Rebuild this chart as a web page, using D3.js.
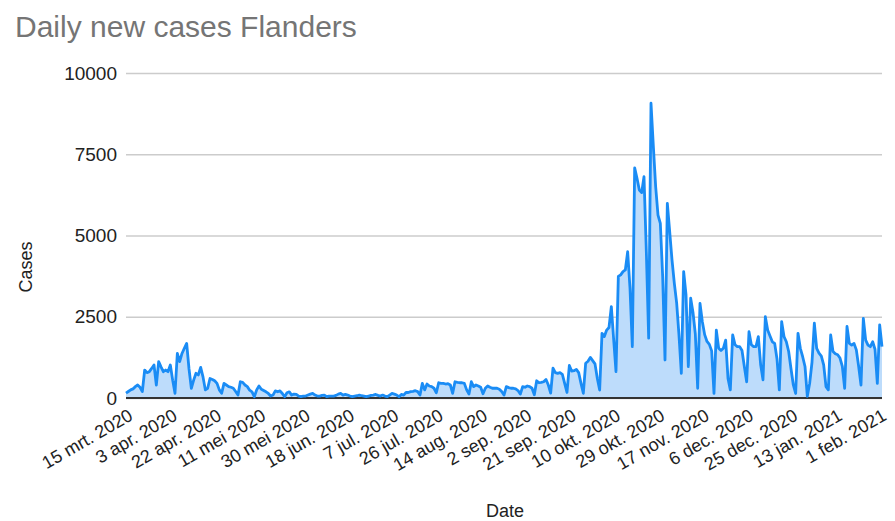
<!DOCTYPE html>
<html>
<head>
<meta charset="utf-8">
<script src="https://cdn.jsdelivr.net/npm/d3@7"></script>
<style>
  body { margin: 0; background: #ffffff; }
  svg { display: block; }
  text { font-family: "Liberation Sans", Arial, sans-serif; }
</style>
</head>
<body>
<svg id="chart" width="895" height="521"></svg>
<script>
// Daily new COVID-19 cases in Flanders, one value per day from 15 March 2020
const startDay = "2020-03-15";
const cases = [
  150, 200, 250, 280, 350, 400, 330,
  200, 860, 780, 810, 910, 1015, 400,
  1120, 960, 810, 860, 810, 1015, 550,
  145, 1370, 1120, 1370, 1530, 1680, 900,
  300, 550, 760, 710, 940, 650, 250,
  300, 600, 570, 530, 450, 250, 145,
  450, 400, 350, 330, 300, 200, 90,
  500, 480, 400, 350, 240, 190, 40,
  250, 370, 270, 230, 190, 140, 60,
  90, 220, 190, 220, 140, 40, 160,
  190, 90, 120, 110, 60, 40, 60,
  60, 90, 120, 140, 90, 60, 60,
  80, 90, 40, 60, 60, 60, 80,
  120, 140, 90, 110, 90, 60, 40,
  60, 70, 90, 70, 60, 40, 60,
  80, 90, 110, 80, 60, 90, 60,
  40, 90, 140, 120, 90, 40, 110,
  90, 170, 170, 195, 205, 225, 195,
  90, 450, 250, 430, 370, 350, 300,
  160, 470, 450, 450, 430, 440, 400,
  145, 500, 480, 470, 470, 450, 250,
  120, 500, 350, 400, 370, 330, 130,
  300, 370, 330, 300, 300, 300, 270,
  200, 90, 350, 320, 300, 300, 280,
  230, 120, 350, 330, 370, 350, 300,
  100, 530, 470, 480, 500, 570, 400,
  150, 920, 780, 760, 780, 730, 450,
  170, 1000, 830, 840, 880, 780, 450,
  145, 1070, 1130, 1250, 1150, 1050, 600,
  245, 1990, 1890, 2090, 2170, 2810, 1800,
  810, 3740, 3790, 3890, 3940, 4500, 3380,
  1580, 7080, 6760, 6400, 6320, 6810, 4510,
  1840, 9070, 7750, 6500, 5630, 5370, 3740,
  1170, 5990, 5130, 4250, 3530, 2920, 1930,
  760, 3890, 3180, 965, 3070, 2630, 1970,
  300, 2910, 2350, 1950, 1740, 1650, 1450,
  140, 2090, 1530, 1460, 1530, 1780, 600,
  250, 1940, 1640, 1580, 1580, 1460, 970,
  500, 2040, 1640, 1580, 1580, 1890, 1020,
  560, 2500, 2090, 1910, 1730, 1680, 1200,
  250, 2350, 1890, 1730, 1430, 900, 400,
  140, 1990, 1530, 1270, 970, 50, 450,
  1100, 2300, 1530, 1380, 1290, 1020, 350,
  250, 1940, 1430, 1360, 1330, 1230, 970,
  300, 2200, 1680, 1630, 1680, 1480, 970,
  400, 2450, 1780, 1630, 1580, 1730, 1500,
  450, 2250, 1580
];

// Date axis ticks (every 19 days) and their labels
const tickDates = [
  "2020-03-15", "2020-04-03", "2020-04-22", "2020-05-11", "2020-05-30",
  "2020-06-18", "2020-07-07", "2020-07-26", "2020-08-14", "2020-09-02",
  "2020-09-21", "2020-10-10", "2020-10-29", "2020-11-17", "2020-12-06",
  "2020-12-25", "2021-01-13", "2021-02-01"
];
const tickLabels = [
  "15 mrt. 2020", "3 apr. 2020", "22 apr. 2020", "11 mei 2020", "30 mei 2020",
  "18 jun. 2020", "7 jul. 2020", "26 jul. 2020", "14 aug. 2020", "2 sep. 2020",
  "21 sep. 2020", "10 okt. 2020", "29 okt. 2020", "17 nov. 2020", "6 dec. 2020",
  "25 dec. 2020", "13 jan. 2021", "1 feb. 2021"
];
const yTicks = [0, 2500, 5000, 7500, 10000];

const chartTitle = "Daily new cases Flanders";
const xTitle = "Date";
const yTitle = "Cases";

const parse = d3.utcParse("%Y-%m-%d");
const t0 = parse(startDay);
const data = cases.map((v, i) => ({ date: d3.utcDay.offset(t0, i), value: v }));

const svg = d3.select("#chart");
const plotLeft = 126, plotRight = 882, plotTop = 73, plotBottom = 398;

const x = d3.scaleUtc()
  .domain(d3.extent(data, d => d.date))
  .range([plotLeft, plotRight]);
const y = d3.scaleLinear()
  .domain([0, 10000])
  .range([plotBottom, plotTop]);

// Title
svg.append("text")
  .attr("x", 15).attr("y", 37)
  .attr("font-size", 30)
  .attr("fill", "#757575")
  .text(chartTitle);

// Horizontal gridlines and value labels
const yAxis = svg.append("g")
  .attr("transform", `translate(${plotLeft},0)`)
  .call(d3.axisLeft(y).tickValues(yTicks).tickSize(-(plotRight - plotLeft)).tickPadding(9).tickFormat(d3.format("d")));
yAxis.select(".domain").remove();
yAxis.selectAll(".tick line").attr("stroke", "#cccccc").attr("stroke-width", 1.5);
yAxis.selectAll(".tick text")
  .attr("font-size", 19)
  .attr("fill", "#222222")
  .style("font-family", "'Liberation Sans', Arial, sans-serif");

// Filled area under the series
svg.append("path")
  .datum(data)
  .attr("fill", "#bddcfb")
  .attr("d", d3.area()
    .x(d => x(d.date))
    .y0(y(0))
    .y1(d => y(d.value)));

// Baseline
svg.append("line")
  .attr("x1", plotLeft).attr("x2", plotRight)
  .attr("y1", y(0)).attr("y2", y(0))
  .attr("stroke", "#333333").attr("stroke-width", 2);

// Series line
svg.append("path")
  .datum(data)
  .attr("fill", "none")
  .attr("stroke", "#1a8cf5")
  .attr("stroke-width", 2.8)
  .attr("stroke-linejoin", "round")
  .attr("d", d3.line()
    .x(d => x(d.date))
    .y(d => y(d.value)));

// Slanted date labels
const xAxis = svg.append("g");
xAxis.selectAll("text")
  .data(tickDates)
  .join("text")
  .attr("transform", d => `translate(${x(parse(d)) + 8},${plotBottom + 21}) rotate(-30)`)
  .attr("text-anchor", "end")
  .attr("font-size", 18)
  .attr("fill", "#222222")
  .text((d, i) => tickLabels[i]);

// Axis titles
svg.append("text")
  .attr("x", 505).attr("y", 517)
  .attr("text-anchor", "middle")
  .attr("font-size", 18)
  .attr("fill", "#222222")
  .text(xTitle);

svg.append("text")
  .attr("transform", "translate(32,267) rotate(-90)")
  .attr("text-anchor", "middle")
  .attr("font-size", 18)
  .attr("fill", "#222222")
  .text(yTitle);
</script>
</body>
</html>
